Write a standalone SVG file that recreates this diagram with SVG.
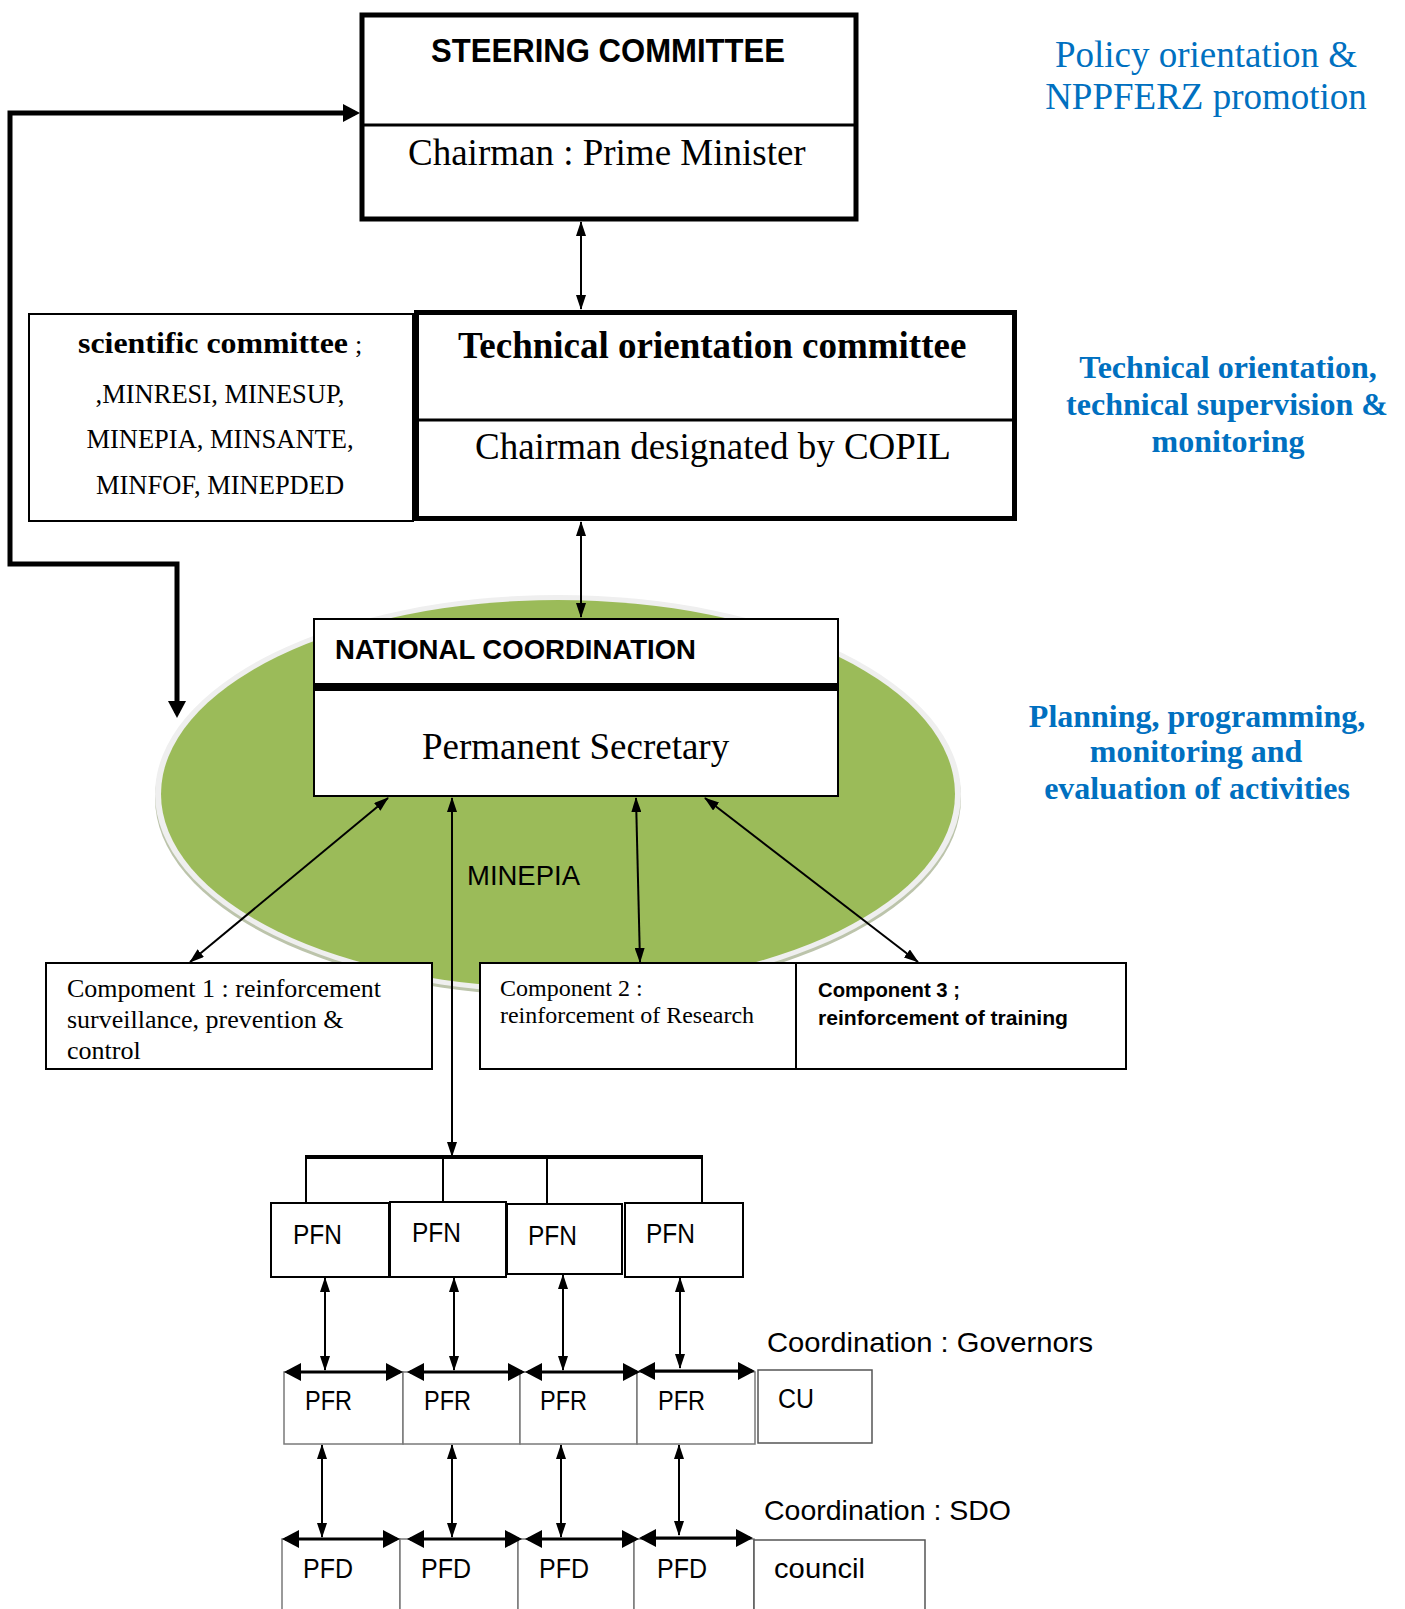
<svg xmlns="http://www.w3.org/2000/svg" width="1405" height="1609" viewBox="0 0 1405 1609">
<style>
.serif{font-family:"Liberation Serif","Times New Roman",serif;fill:#000}
.sans{font-family:"Liberation Sans",Arial,sans-serif;fill:#000}
.blue{font-family:"Liberation Serif","Times New Roman",serif;fill:#0070C0}
.box{fill:#fff;stroke:#000;stroke-width:2}
.gbox{fill:#fff;stroke:#7a7a7a;stroke-width:1.5}
.thin{fill:none;stroke:#000;stroke-width:2}
.hz{fill:none;stroke:#000;stroke-width:3}
</style>
<defs>
<marker id="a" viewBox="0 0 15 10" refX="14" refY="5" markerWidth="15" markerHeight="10" markerUnits="userSpaceOnUse" orient="auto-start-reverse">
<path d="M0,0 L15,5 L0,10 z" fill="#000"/>
</marker>
<marker id="b" viewBox="0 0 17 18" refX="14" refY="9" markerWidth="17" markerHeight="18" markerUnits="userSpaceOnUse" orient="auto-start-reverse">
<path d="M0,0 L17,9 L0,18 z" fill="#000"/>
</marker>
<marker id="c" viewBox="0 0 17 18" refX="12" refY="9" markerWidth="17" markerHeight="18" markerUnits="userSpaceOnUse" orient="auto-start-reverse">
<path d="M0,0 L17,9 L0,18 z" fill="#000"/>
</marker>
</defs>

<g id="minepia-ellipse">
<ellipse cx="558" cy="798" rx="403" ry="198" fill="#bcc4ab"/>
<ellipse cx="558" cy="794" rx="403" ry="199" fill="#efefef"/>
<ellipse cx="558" cy="794" rx="397" ry="194" fill="#9BBB59"/>
<text class="sans" x="467" y="885" font-size="28" textLength="113" lengthAdjust="spacingAndGlyphs">MINEPIA</text>
</g>

<g id="connectors">
<path d="M355 113 H10 V564 H177 V713" fill="none" stroke="#000" stroke-width="5" marker-start="url(#c)" marker-end="url(#c)"/>
<line class="thin" x1="581" y1="222" x2="581" y2="309" marker-start="url(#a)" marker-end="url(#a)"/>
<line class="thin" x1="581" y1="522" x2="581" y2="617" marker-start="url(#a)" marker-end="url(#a)"/>
<line class="thin" x1="388" y1="798" x2="190" y2="962" marker-start="url(#a)" marker-end="url(#a)"/>
<line class="thin" x1="452" y1="798" x2="452" y2="1156" marker-start="url(#a)" marker-end="url(#a)"/>
<line class="thin" x1="636" y1="798" x2="640" y2="962" marker-start="url(#a)" marker-end="url(#a)"/>
<line class="thin" x1="705" y1="798" x2="918" y2="962" marker-start="url(#a)" marker-end="url(#a)"/>
<line x1="305" y1="1157" x2="703" y2="1157" stroke="#000" stroke-width="4"/>
<line class="thin" x1="306" y1="1157" x2="306" y2="1203"/>
<line class="thin" x1="443" y1="1157" x2="443" y2="1202"/>
<line class="thin" x1="547" y1="1157" x2="547" y2="1204"/>
<line class="thin" x1="702" y1="1157" x2="702" y2="1203"/>
<line class="thin" x1="325" y1="1278" x2="325" y2="1370" marker-start="url(#a)" marker-end="url(#a)"/>
<line class="thin" x1="454" y1="1278" x2="454" y2="1370" marker-start="url(#a)" marker-end="url(#a)"/>
<line class="thin" x1="563" y1="1275" x2="563" y2="1370" marker-start="url(#a)" marker-end="url(#a)"/>
<line class="thin" x1="680" y1="1278" x2="680" y2="1368" marker-start="url(#a)" marker-end="url(#a)"/>
<line class="thin" x1="322" y1="1445" x2="322" y2="1537" marker-start="url(#a)" marker-end="url(#a)"/>
<line class="thin" x1="452" y1="1445" x2="452" y2="1537" marker-start="url(#a)" marker-end="url(#a)"/>
<line class="thin" x1="561" y1="1445" x2="561" y2="1537" marker-start="url(#a)" marker-end="url(#a)"/>
<line class="thin" x1="679" y1="1445" x2="679" y2="1535" marker-start="url(#a)" marker-end="url(#a)"/>
</g>

<g id="steering-committee">
<rect x="362" y="15" width="494" height="204" fill="#fff" stroke="#000" stroke-width="5"/>
<line x1="362" y1="125" x2="856" y2="125" stroke="#000" stroke-width="3"/>
<text class="sans" x="431" y="62" font-size="33" font-weight="bold" textLength="354" lengthAdjust="spacingAndGlyphs">STEERING COMMITTEE</text>
<text class="serif" x="408" y="165" font-size="37">Chairman : Prime Minister</text>
</g>

<g id="scientific-committee">
<rect x="29" y="314" width="384" height="207" class="box"/>
<text class="serif" x="78" y="353" font-size="30" font-weight="bold" textLength="270" lengthAdjust="spacingAndGlyphs">scientific committee</text>
<text class="serif" x="355" y="353" font-size="26">;</text>
<text class="serif" x="220" y="403" font-size="26.5" text-anchor="middle">,MINRESI, MINESUP,</text>
<text class="serif" x="220" y="448" font-size="26.5" text-anchor="middle">MINEPIA, MINSANTE,</text>
<text class="serif" x="220" y="494" font-size="26.5" text-anchor="middle">MINFOF, MINEPDED</text>
</g>

<g id="technical-committee">
<rect x="416.5" y="312.5" width="598" height="206" fill="#fff" stroke="#000" stroke-width="5"/>
<line x1="416" y1="420" x2="1015" y2="420" stroke="#000" stroke-width="3"/>
<text class="serif" x="458" y="358" font-size="37" font-weight="bold">Technical orientation committee</text>
<text class="serif" x="475" y="459" font-size="37">Chairman designated by COPIL</text>
</g>

<g id="national-coordination">
<rect x="314" y="619" width="524" height="177" class="box"/>
<line x1="314" y1="687" x2="838" y2="687" stroke="#000" stroke-width="8"/>
<text class="sans" x="335" y="659" font-size="28.5" font-weight="bold" textLength="361" lengthAdjust="spacingAndGlyphs">NATIONAL COORDINATION</text>
<text class="serif" x="422" y="759" font-size="37">Permanent Secretary</text>
</g>

<g id="component-1">
<rect x="46" y="963" width="386" height="106" class="box"/>
<text class="serif" x="67" y="997" font-size="26">Compoment 1 : reinforcement</text>
<text class="serif" x="67" y="1028" font-size="26">surveillance, prevention &amp;</text>
<text class="serif" x="67" y="1059" font-size="26">control</text>
</g>

<g id="component-2">
<rect x="480" y="963" width="316" height="106" class="box"/>
<text class="serif" x="500" y="996" font-size="24">Component 2 :</text>
<text class="serif" x="500" y="1023" font-size="24" textLength="254" lengthAdjust="spacingAndGlyphs">reinforcement of Research</text>
</g>

<g id="component-3">
<rect x="796" y="963" width="330" height="106" class="box"/>
<text class="sans" x="818" y="997" font-size="20" font-weight="bold" textLength="142" lengthAdjust="spacingAndGlyphs">Component 3 ;</text>
<text class="sans" x="818" y="1025" font-size="20" font-weight="bold" textLength="250" lengthAdjust="spacingAndGlyphs">reinforcement of training</text>
</g>

<g id="pfn-row">
<rect x="271" y="1203" width="118" height="74" class="box"/>
<rect x="390" y="1202" width="116" height="75" class="box"/>
<rect x="507" y="1204" width="115" height="70" class="box"/>
<rect x="625" y="1203" width="118" height="74" class="box"/>
<text class="sans" x="293" y="1244" font-size="27" textLength="49" lengthAdjust="spacingAndGlyphs">PFN</text>
<text class="sans" x="412" y="1242" font-size="27" textLength="49" lengthAdjust="spacingAndGlyphs">PFN</text>
<text class="sans" x="528" y="1245" font-size="27" textLength="49" lengthAdjust="spacingAndGlyphs">PFN</text>
<text class="sans" x="646" y="1243" font-size="27" textLength="49" lengthAdjust="spacingAndGlyphs">PFN</text>
</g>

<g id="pfr-row">
<rect x="284" y="1372" width="119" height="72" class="gbox"/>
<rect x="403" y="1372" width="117" height="72" class="gbox"/>
<rect x="520" y="1372" width="117" height="72" class="gbox"/>
<rect x="637" y="1372" width="118" height="72" class="gbox"/>
<text class="sans" x="305" y="1410" font-size="27" textLength="47" lengthAdjust="spacingAndGlyphs">PFR</text>
<text class="sans" x="424" y="1410" font-size="27" textLength="47" lengthAdjust="spacingAndGlyphs">PFR</text>
<text class="sans" x="540" y="1410" font-size="27" textLength="47" lengthAdjust="spacingAndGlyphs">PFR</text>
<text class="sans" x="658" y="1410" font-size="27" textLength="47" lengthAdjust="spacingAndGlyphs">PFR</text>
<line class="hz" x1="287" y1="1372" x2="400" y2="1372" marker-start="url(#b)" marker-end="url(#b)"/>
<line class="hz" x1="410" y1="1372" x2="522" y2="1372" marker-start="url(#b)" marker-end="url(#b)"/>
<line class="hz" x1="528" y1="1372" x2="637" y2="1372" marker-start="url(#b)" marker-end="url(#b)"/>
<line class="hz" x1="641" y1="1371" x2="752" y2="1371" marker-start="url(#b)" marker-end="url(#b)"/>
</g>

<g id="cu">
<rect x="758" y="1370" width="114" height="73" fill="#fff" stroke="#555" stroke-width="1.5"/>
<text class="sans" x="778" y="1408" font-size="27" textLength="36" lengthAdjust="spacingAndGlyphs">CU</text>
</g>

<g id="pfd-row">
<rect x="282" y="1539" width="118" height="90" class="gbox"/>
<rect x="400" y="1539" width="118" height="90" class="gbox"/>
<rect x="518" y="1539" width="116" height="90" class="gbox"/>
<rect x="634" y="1539" width="120" height="90" class="gbox"/>
<text class="sans" x="303" y="1578" font-size="27" textLength="50" lengthAdjust="spacingAndGlyphs">PFD</text>
<text class="sans" x="421" y="1578" font-size="27" textLength="50" lengthAdjust="spacingAndGlyphs">PFD</text>
<text class="sans" x="539" y="1578" font-size="27" textLength="50" lengthAdjust="spacingAndGlyphs">PFD</text>
<text class="sans" x="657" y="1578" font-size="27" textLength="50" lengthAdjust="spacingAndGlyphs">PFD</text>
<line class="hz" x1="285" y1="1539" x2="397" y2="1539" marker-start="url(#b)" marker-end="url(#b)"/>
<line class="hz" x1="410" y1="1539" x2="519" y2="1539" marker-start="url(#b)" marker-end="url(#b)"/>
<line class="hz" x1="528" y1="1539" x2="636" y2="1539" marker-start="url(#b)" marker-end="url(#b)"/>
<line class="hz" x1="642" y1="1538" x2="750" y2="1538" marker-start="url(#b)" marker-end="url(#b)"/>
</g>

<g id="council">
<rect x="754" y="1540" width="171" height="90" fill="#fff" stroke="#555" stroke-width="1.5"/>
<text class="sans" x="774" y="1578" font-size="27" textLength="91" lengthAdjust="spacingAndGlyphs">council</text>
</g>

<g id="labels">
<text class="sans" x="767" y="1352" font-size="28" textLength="326" lengthAdjust="spacingAndGlyphs">Coordination : Governors</text>
<text class="sans" x="764" y="1520" font-size="28" textLength="247" lengthAdjust="spacingAndGlyphs">Coordination : SDO</text>
<text class="blue" x="1206" y="67" font-size="37" text-anchor="middle">Policy orientation &amp;</text>
<text class="blue" x="1206" y="109" font-size="37" text-anchor="middle">NPPFERZ promotion</text>
<text class="blue" x="1228" y="378" font-size="32" font-weight="bold" text-anchor="middle">Technical orientation,</text>
<text class="blue" x="1227" y="415" font-size="32" font-weight="bold" text-anchor="middle">technical supervision &amp;</text>
<text class="blue" x="1228" y="452" font-size="32" font-weight="bold" text-anchor="middle">monitoring</text>
<text class="blue" x="1197" y="727" font-size="32" font-weight="bold" text-anchor="middle">Planning, programming,</text>
<text class="blue" x="1196" y="762" font-size="32" font-weight="bold" text-anchor="middle">monitoring and</text>
<text class="blue" x="1197" y="799" font-size="32" font-weight="bold" text-anchor="middle">evaluation of activities</text>
</g>
</svg>
